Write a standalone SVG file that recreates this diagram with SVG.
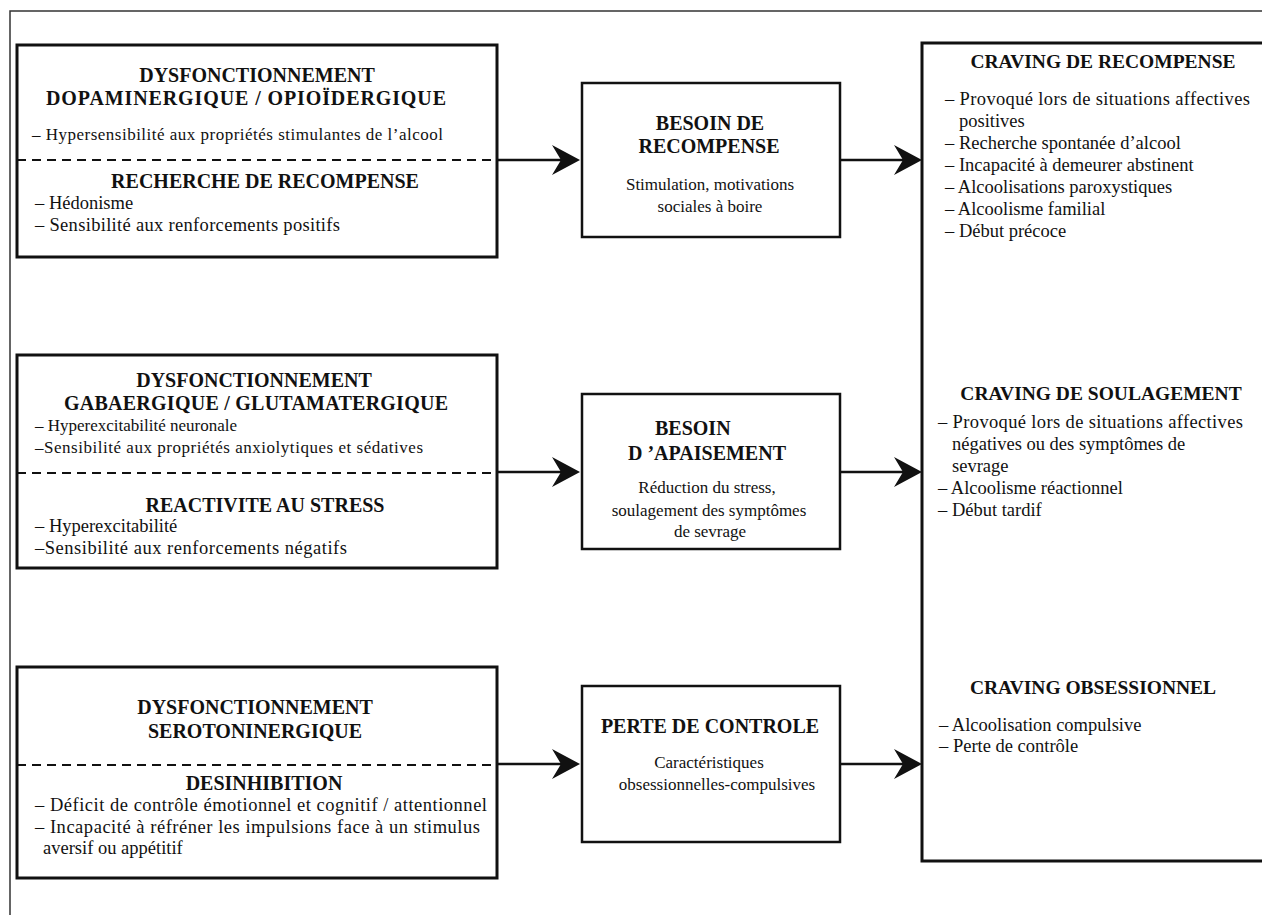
<svg xmlns="http://www.w3.org/2000/svg" xmlns:xlink="http://www.w3.org/1999/xlink" width="1262" height="915" viewBox="0 0 1262 915">
<style>
.frame{fill:none;stroke:#333;stroke-width:1.5}
.lbox{fill:none;stroke:#111;stroke-width:3}
.mbox{fill:#fff;stroke:#111;stroke-width:2.5}
.rbox{fill:#fff;stroke:#111;stroke-width:3}
.dash{stroke:#111;stroke-width:2;stroke-dasharray:9 6;fill:none}
.line{stroke:#111;stroke-width:2.5;fill:none}
.t{font-family:"Liberation Serif","Times New Roman",serif;fill:#111}
.hb{font-weight:bold;font-size:20px;text-anchor:middle}
.hs{text-anchor:start}
.it{font-size:17px}
.cb{font-size:18.5px}
.mt{font-size:17px;text-anchor:middle}
.rt{font-size:19.5px}
</style>
<defs>
<path id="head" d="M0,0 L-28,-15 L-19,0 L-28,15 Z" fill="#111"/>
</defs>
<rect class="frame" x="10" y="11" width="1262" height="915"/>

<g id="connectors">
<line class="dash" x1="17" y1="160" x2="497" y2="160"/>
<line class="line" x1="497" y1="160" x2="562" y2="160"/>
<use xlink:href="#head" x="580" y="160"/>
<line class="line" x1="840" y1="160" x2="904" y2="160"/>
<use xlink:href="#head" x="922" y="160"/>

<line class="dash" x1="17" y1="473" x2="497" y2="473"/>
<line class="line" x1="497" y1="472" x2="562" y2="472"/>
<use xlink:href="#head" x="580" y="472"/>
<line class="line" x1="840" y1="472" x2="904" y2="472"/>
<use xlink:href="#head" x="922" y="472"/>

<line class="dash" x1="17" y1="765" x2="497" y2="765"/>
<line class="line" x1="497" y1="764" x2="562" y2="764"/>
<use xlink:href="#head" x="580" y="764"/>
<line class="line" x1="840" y1="764" x2="904" y2="764"/>
<use xlink:href="#head" x="922" y="764"/>
</g>

<g id="left1">
<rect class="lbox" x="17" y="45" width="480" height="212"/>
<text class="t hb" x="257" y="82">DYSFONCTIONNEMENT</text>
<text class="t hb" x="246" y="105" textLength="400">DOPAMINERGIQUE / OPIOÏDERGIQUE</text>
<text class="t it" x="32" y="140" textLength="411">– Hypersensibilité aux propriétés stimulantes de l’alcool</text>
<text class="t hb" x="265" y="188">RECHERCHE DE RECOMPENSE</text>
<text class="t cb" x="35" y="209">– Hédonisme</text>
<text class="t cb" x="35" y="231" textLength="305">– Sensibilité aux renforcements positifs</text>
</g>

<g id="left2">
<rect class="lbox" x="17" y="355" width="480" height="213"/>
<text class="t hb" x="254" y="387">DYSFONCTIONNEMENT</text>
<text class="t hb" x="256" y="410" textLength="384">GABAERGIQUE / GLUTAMATERGIQUE</text>
<text class="t it" x="35" y="431">– Hyperexcitabilité neuronale</text>
<text class="t it" x="35" y="453" textLength="388">–Sensibilité aux propriétés anxiolytiques et sédatives</text>
<text class="t hb" x="265" y="512">REACTIVITE AU STRESS</text>
<text class="t cb" x="35" y="532">– Hyperexcitabilité</text>
<text class="t cb" x="35" y="554" textLength="312">–Sensibilité aux renforcements négatifs</text>
</g>

<g id="left3">
<rect class="lbox" x="17" y="667" width="480" height="211"/>
<text class="t hb" x="255" y="714">DYSFONCTIONNEMENT</text>
<text class="t hb" x="255" y="738">SEROTONINERGIQUE</text>
<text class="t hb" x="264" y="790">DESINHIBITION</text>
<text class="t cb" x="35" y="811" textLength="452">– Déficit de contrôle émotionnel et cognitif / attentionnel</text>
<text class="t cb" x="35" y="833" textLength="445">– Incapacité à réfréner les impulsions face à un stimulus</text>
<text class="t cb" x="43" y="854">aversif ou appétitif</text>
</g>

<g id="mid1">
<rect class="mbox" x="582" y="83" width="258" height="154"/>
<text class="t hb" x="710" y="130">BESOIN DE</text>
<text class="t hb" x="709" y="153">RECOMPENSE</text>
<text class="t mt" x="710" y="190">Stimulation, motivations</text>
<text class="t mt" x="710" y="212">sociales à boire</text>
</g>

<g id="mid2">
<rect class="mbox" x="582" y="394" width="258" height="155"/>
<text class="t hb hs" x="655" y="435">BESOIN</text>
<text class="t hb hs" x="628" y="460">D ’APAISEMENT</text>
<text class="t mt" x="707" y="493">Réduction du stress,</text>
<text class="t mt" x="709" y="516">soulagement des symptômes</text>
<text class="t mt" x="710" y="537">de sevrage</text>
</g>

<g id="mid3">
<rect class="mbox" x="582" y="686" width="258" height="156"/>
<text class="t hb" x="710" y="733">PERTE DE CONTROLE</text>
<text class="t mt" x="709" y="768">Caractéristiques</text>
<text class="t mt" x="717" y="790">obsessionnelles-compulsives</text>
</g>

<g id="right">
<rect class="rbox" x="922" y="43" width="350" height="818"/>
<text class="t hb rt" x="1103" y="68">CRAVING DE RECOMPENSE</text>
<text class="t cb" x="945" y="105" textLength="305">– Provoqué lors de situations affectives</text>
<text class="t cb" x="959" y="127">positives</text>
<text class="t cb" x="945" y="149">– Recherche spontanée d’alcool</text>
<text class="t cb" x="945" y="171">– Incapacité à demeurer abstinent</text>
<text class="t cb" x="945" y="193">– Alcoolisations paroxystiques</text>
<text class="t cb" x="945" y="215">– Alcoolisme familial</text>
<text class="t cb" x="945" y="237">– Début précoce</text>

<text class="t hb rt" x="1101" y="400">CRAVING DE SOULAGEMENT</text>
<text class="t cb" x="938" y="428" textLength="305">– Provoqué lors de situations affectives</text>
<text class="t cb" x="952" y="450">négatives ou des symptômes de</text>
<text class="t cb" x="952" y="472">sevrage</text>
<text class="t cb" x="938" y="494">– Alcoolisme réactionnel</text>
<text class="t cb" x="938" y="516">– Début tardif</text>

<text class="t hb rt" x="1093" y="694">CRAVING OBSESSIONNEL</text>
<text class="t cb" x="939" y="731">– Alcoolisation compulsive</text>
<text class="t cb" x="939" y="752">– Perte de contrôle</text>
</g>
</svg>
